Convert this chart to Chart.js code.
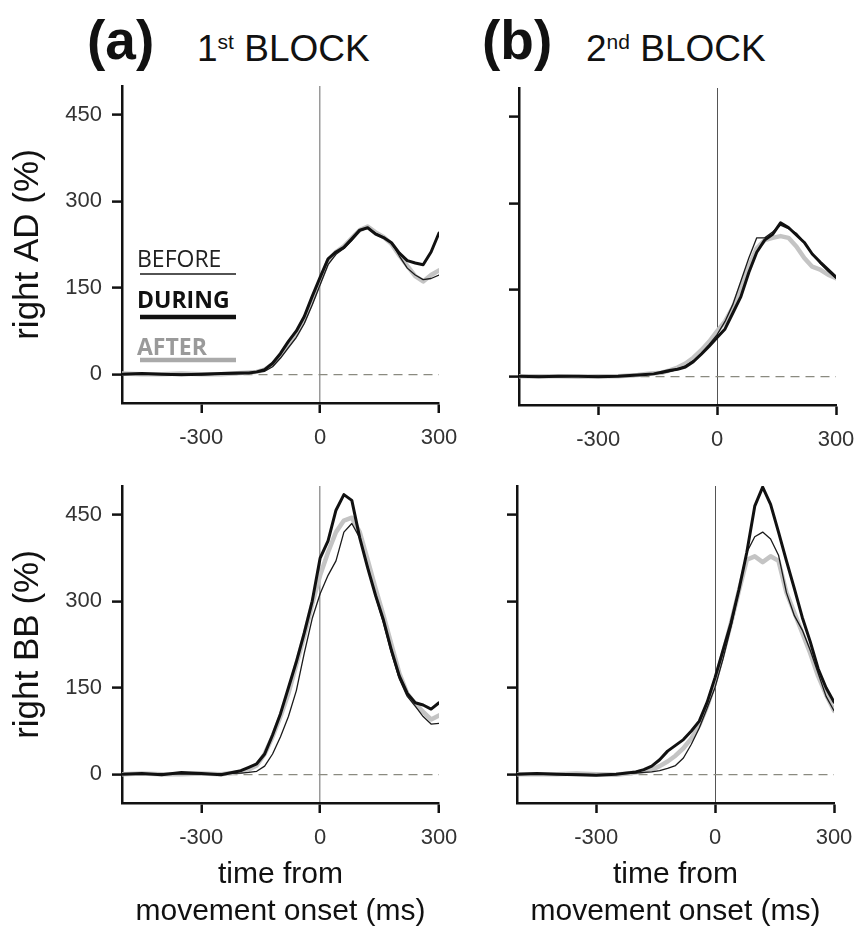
<!DOCTYPE html>
<html>
<head>
<meta charset="utf-8">
<script src="https://cdn.jsdelivr.net/npm/chart.js@4.4.0/dist/chart.umd.min.js"></script>
<style>
  body { margin: 0; background: #fff; width: 857px; height: 927px; overflow: hidden; position: relative;
         font-family: "Liberation Sans", Arial, sans-serif; }
  canvas { position: absolute; }
  .lbl { position: absolute; white-space: nowrap; color: #111; line-height: 1; }
  .sup { font-size: 21px; position: relative; top: -12px; }
</style>
</head>
<body>
<div class="lbl" style="left:87px;top:13px;font-size:55px;font-weight:bold;">(a)</div>
<div class="lbl" style="left:197px;top:30px;font-size:37px;">1<span class="sup">st</span> BLOCK</div>
<div class="lbl" style="left:482px;top:13px;font-size:55px;font-weight:bold;">(b)</div>
<div class="lbl" style="left:586px;top:30px;font-size:37px;">2<span class="sup">nd</span> BLOCK</div>

<canvas id="adBlock1" width="465" height="380" style="left:0;top:70px"></canvas>
<canvas id="adBlock2" width="397" height="380" style="left:460px;top:72px"></canvas>
<canvas id="bbBlock1" width="465" height="460" style="left:0;top:470px"></canvas>
<canvas id="bbBlock2" width="397" height="460" style="left:460px;top:470px"></canvas>

<script>
// time from movement onset (ms)
const times = [-500, -450, -400, -350, -300, -250, -200, -180, -160, -140, -120, -100, -80, -60, -40, -20, 0,
               20, 40, 60, 80, 100, 120, 140, 160, 180, 200, 220, 240, 260, 280, 300];
const xTicks = [-300, 0, 300];
const yTicks = [0, 150, 300, 450];
const seriesNames = ['DURING', 'BEFORE', 'AFTER'];

// right AD (%), 1st block
const adDuring1 = [0, 1, 0, -1, 0, 1, 2, 2, 4, 8, 19, 36, 57, 75, 100, 135, 168,
                   200, 212, 220, 235, 250, 254, 243, 237, 228, 210, 197, 193, 190, 212, 245];
const adBefore1 = [0, 0, 1, 0, -1, 0, 1, 2, 3, 5, 13, 28, 46, 64, 88, 120, 155,
                   190, 208, 218, 232, 248, 254, 245, 238, 228, 205, 184, 172, 164, 166, 172];
const adAfter1 = [1, 0, 0, 1, 0, 0, 2, 3, 4, 8, 17, 32, 50, 68, 94, 128, 162,
                  196, 212, 222, 236, 250, 256, 246, 238, 226, 206, 188, 170, 161, 172, 180];

// right AD (%), 2nd block
const adDuring2 = [0, -1, 0, 0, -1, 0, 2, 3, 4, 7, 10, 12, 16, 25, 38, 52, 67,
                   82, 110, 138, 180, 215, 236, 246, 266, 258, 245, 232, 212, 198, 185, 172];
const adBefore2 = [0, 0, -1, 0, 0, 1, 2, 3, 4, 5, 8, 12, 18, 27, 40, 55, 72,
                   95, 125, 165, 205, 240, 240, 250, 262, 256, 248, 232, 212, 196, 182, 170];
const adAfter2 = [0, 0, 0, -1, 0, 0, 2, 4, 5, 6, 10, 15, 22, 32, 45, 60, 78,
                  95, 120, 155, 190, 222, 236, 240, 243, 240, 225, 205, 190, 185, 176, 170];

// right BB (%), 1st block
const bbDuring1 = [0, 1, -1, 3, 1, -1, 6, 12, 18, 35, 68, 105, 150, 195, 245, 300, 375,
                   405, 458, 485, 475, 410, 358, 310, 267, 215, 170, 140, 124, 120, 113, 124];
const bbBefore1 = [0, 0, 1, 0, 0, 1, 2, 3, 5, 14, 35, 65, 100, 145, 210, 270, 313,
                   345, 370, 420, 435, 410, 360, 308, 262, 210, 165, 135, 118, 100, 87, 88];
const bbAfter1 = [0, 1, 0, 0, 1, 0, 4, 8, 15, 35, 65, 100, 140, 190, 240, 295, 345,
                  385, 420, 440, 445, 420, 372, 322, 275, 225, 175, 140, 122, 108, 95, 102];

// right BB (%), 2nd block
const bbDuring2 = [0, 1, 0, -1, -2, 0, 4, 8, 14, 25, 40, 50, 60, 75, 92, 125, 168,
                   215, 262, 320, 385, 465, 498, 468, 420, 370, 322, 272, 230, 183, 150, 125];
const bbBefore2 = [0, 0, 1, 0, -1, 0, 2, 3, 4, 6, 10, 15, 28, 52, 80, 115, 151,
                   200, 255, 320, 385, 412, 420, 408, 380, 315, 275, 250, 215, 175, 135, 110];
const bbAfter2 = [0, 0, 0, 1, 0, -1, 3, 5, 8, 14, 22, 32, 45, 62, 85, 118, 160,
                  210, 262, 318, 372, 378, 368, 378, 370, 315, 280, 245, 210, 170, 138, 110];

Chart.defaults.font.family = "'Liberation Sans', Arial, sans-serif";

const seriesStyle = {
  DURING: { color: '#111111', width: 3 },
  BEFORE: { color: '#1a1a1a', width: 1.3 },
  AFTER: { color: '#c4c4c4', width: 4.5 }
};

// legend drawn inside the first panel: text with a line sample underneath
const legendPlugin = {
  id: 'blockLegend',
  afterDraw(chart) {
    const ctx = chart.ctx;
    const a = chart.chartArea;
    const rows = [
      { name: 'BEFORE', bold: false, text: '#222', textY: 181, lineY: 188 },
      { name: 'DURING', bold: true, text: '#111', textY: 222, lineY: 231 },
      { name: 'AFTER', bold: true, text: '#9a9a9a', textY: 269, lineY: 274 }
    ];
    ctx.save();
    rows.forEach(r => {
      ctx.font = (r.bold ? 'bold ' : '') + "23px 'Open Sans', 'Noto Sans', sans-serif";
      ctx.fillStyle = r.text;
      ctx.textBaseline = 'alphabetic';
      ctx.fillText(r.name, a.left + 15, a.top + r.textY);
      ctx.beginPath();
      ctx.strokeStyle = r.name === 'AFTER' ? '#aaaaaa' : seriesStyle[r.name].color;
      ctx.lineWidth = r.name === 'BEFORE' ? 1.5 : 4.5;
      ctx.moveTo(a.left + 18, a.top + r.lineY);
      ctx.lineTo(a.left + 114, a.top + r.lineY);
      ctx.stroke();
    });
    ctx.restore();
  }
};

function makePanel(id, values, cfg) {
  return new Chart(document.getElementById(id), {
    type: 'line',
    data: {
      datasets: seriesNames.map((name, k) => ({
        label: name,
        data: times.map((t, i) => ({ x: t, y: values[k][i] })),
        borderColor: seriesStyle[name].color,
        borderWidth: seriesStyle[name].width,
        pointRadius: 0,
        tension: 0,
        borderJoinStyle: 'round',
        borderCapStyle: 'round'
      }))
    },
    options: {
      responsive: false,
      animation: false,
      layout: { padding: { top: 16, right: cfg.padRight, left: 0, bottom: 0 } },
      plugins: { legend: { display: false }, tooltip: { enabled: false } },
      scales: {
        x: {
          type: 'linear',
          min: -500,
          max: 300,
          afterBuildTicks: s => { s.ticks = xTicks.map(v => ({ value: v })); },
          afterFit: s => { s.height = cfg.xHeight; s.paddingLeft = 0; s.paddingRight = 0; },
          grid: {
            color: c => (c.tick && c.tick.value === 0) ? cfg.zeroColor : 'rgba(0,0,0,0)',
            lineWidth: cfg.zeroWidth,
            tickColor: '#111',
            tickWidth: 2.5,
            tickLength: 10
          },
          border: { color: '#111', width: 2.5 },
          ticks: { font: { size: 22 }, color: '#333', padding: 12, maxRotation: 0 },
          title: cfg.xTitle
            ? { display: true, text: ['time from', 'movement onset (ms)'], color: '#111',
                font: { size: 30, lineHeight: '37px' }, padding: { top: 0, bottom: 0 } }
            : { display: false }
        },
        y: {
          type: 'linear',
          min: -50,
          max: 500,
          afterBuildTicks: s => { s.ticks = yTicks.map(v => ({ value: v })); },
          afterFit: s => { s.width = cfg.yWidth; s.paddingTop = 0; s.paddingBottom = 0; },
          grid: {
            color: c => (c.tick && c.tick.value === 0) ? '#8a8a80' : 'rgba(0,0,0,0)',
            lineWidth: 1.2,
            tickColor: '#111',
            tickWidth: 2.5,
            tickLength: 10
          },
          border: { color: '#111', width: 2.5, dash: [9, 6] },
          ticks: { display: cfg.yLabels, font: { size: 22 }, color: '#333', padding: 10 },
          title: cfg.yTitle
            ? { display: true, text: cfg.yTitle, color: '#111', font: { size: 35 }, padding: { top: 7, bottom: 0 } }
            : { display: false }
        }
      }
    },
    plugins: cfg.legend ? [legendPlugin] : []
  });
}

makePanel('adBlock1', [adDuring1, adBefore1, adAfter1], {
  yTitle: 'right AD (%)', yLabels: true, xTitle: false, legend: true,
  zeroColor: '#9a9a9a', zeroWidth: 1.5, yWidth: 122, xHeight: 47, padRight: 26
});
makePanel('adBlock2', [adDuring2, adBefore2, adAfter2], {
  yTitle: null, yLabels: false, xTitle: false, legend: false,
  zeroColor: '#555', zeroWidth: 1, yWidth: 59, xHeight: 47, padRight: 21
});
makePanel('bbBlock1', [bbDuring1, bbBefore1, bbAfter1], {
  yTitle: 'right BB (%)', yLabels: true, xTitle: true, legend: false,
  zeroColor: '#9a9a9a', zeroWidth: 1.5, yWidth: 122, xHeight: 127, padRight: 26
});
makePanel('bbBlock2', [bbDuring2, bbBefore2, bbAfter2], {
  yTitle: null, yLabels: false, xTitle: true, legend: false,
  zeroColor: '#555', zeroWidth: 1, yWidth: 57, xHeight: 127, padRight: 23
});
</script>
</body>
</html>
